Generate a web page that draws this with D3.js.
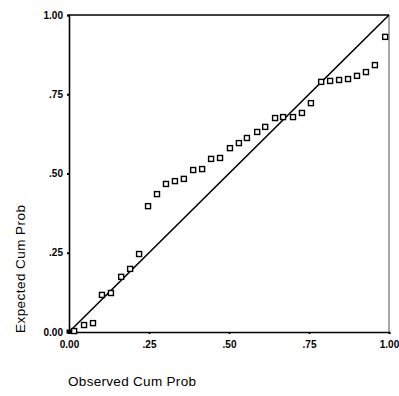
<!DOCTYPE html>
<html>
<head>
<meta charset="utf-8">
<script src="https://cdn.jsdelivr.net/npm/d3@7/dist/d3.min.js"></script>
<style>
  html, body { margin: 0; padding: 0; background: #fff; }
  svg { display: block; }
  text { font-family: "Liberation Sans", Arial, sans-serif; fill: #000; }
</style>
</head>
<body>
<svg id="chart" width="399" height="396"></svg>
<script>
// Observed cumulative probability (x) and expected cumulative probability (y)
const observed = [0.016, 0.047, 0.075, 0.103, 0.131, 0.163, 0.191, 0.219, 0.247, 0.275,
                  0.303, 0.331, 0.359, 0.388, 0.416, 0.444, 0.472, 0.503, 0.531, 0.556,
                  0.588, 0.613, 0.644, 0.669, 0.700, 0.728, 0.756, 0.788, 0.816, 0.844,
                  0.872, 0.900, 0.928, 0.956, 0.988];
const expected = [0.003, 0.022, 0.028, 0.117, 0.123, 0.174, 0.199, 0.246, 0.397, 0.435,
                  0.467, 0.476, 0.483, 0.511, 0.514, 0.546, 0.549, 0.580, 0.596, 0.612,
                  0.631, 0.647, 0.675, 0.678, 0.678, 0.691, 0.722, 0.789, 0.792, 0.795,
                  0.798, 0.808, 0.820, 0.842, 0.931];
const tickValues = [0, 0.25, 0.5, 0.75, 1];
const tickLabels = ["0.00", ".25", ".50", ".75", "1.00"];
const xTitle = "Observed Cum Prob";
const yTitle = "Expected Cum Prob";

(function () {
const svg = d3.select("#chart");
const mLeft = 69, mRight = 389, mTop = 15, mBottom = 332;

const x = d3.scaleLinear().domain([0, 1]).range([mLeft, mRight]);
const y = d3.scaleLinear().domain([0, 1]).range([mBottom, mTop]);

// frame: top and right
svg.append("line").attr("x1", mLeft).attr("x2", mRight).attr("y1", mTop).attr("y2", mTop)
  .attr("stroke", "#000").attr("stroke-width", 1.5);
svg.append("line").attr("x1", mRight).attr("x2", mRight).attr("y1", mTop).attr("y2", mBottom)
  .attr("stroke", "#8a8a8a").attr("stroke-width", 1.5);

// axes
const fmt = (d) => tickLabels[tickValues.indexOf(d)];
const xAxis = svg.append("g").attr("transform", `translate(0,${mBottom})`)
  .call(d3.axisBottom(x).tickValues(tickValues).tickFormat(fmt).tickSize(2).tickPadding(7));
const yAxis = svg.append("g").attr("transform", `translate(${mLeft},0)`)
  .call(d3.axisLeft(y).tickValues(tickValues).tickFormat(fmt).tickSize(2).tickPadding(4));
[xAxis, yAxis].forEach(g => {
  g.select(".domain").attr("stroke", "#000").attr("stroke-width", 1.6);
  g.selectAll(".tick line").attr("stroke", "#000").attr("stroke-width", 2);
  g.selectAll(".tick text").attr("font-family", "'Liberation Sans', Arial, sans-serif")
    .attr("font-size", 10).attr("font-weight", "bold").attr("fill", "#000");
});

// reference diagonal
svg.append("line").attr("x1", x(0)).attr("y1", y(0)).attr("x2", x(1)).attr("y2", y(1))
  .attr("stroke", "#000").attr("stroke-width", 1.6);

// origin blob
svg.append("rect").attr("x", x(0) - 2.5).attr("y", y(0) - 2.5).attr("width", 5).attr("height", 4)
  .attr("fill", "#000");

// points
const s = 5;
svg.append("g").selectAll("rect").data(observed).join("rect")
  .attr("x", (d) => x(d) - s / 2)
  .attr("y", (d, i) => y(expected[i]) - s / 2)
  .attr("width", s).attr("height", s)
  .attr("fill", "#fff").attr("stroke", "#000").attr("stroke-width", 1.4);

// axis titles
svg.append("text").attr("x", 68).attr("y", 386).attr("font-size", 13.5)
  .attr("textLength", 128).attr("lengthAdjust", "spacing").text(xTitle);
svg.append("text").attr("transform", "translate(25,333) rotate(-90)")
  .attr("font-size", 13.5).attr("textLength", 128).attr("lengthAdjust", "spacing").text(yTitle);
})();
</script>
</body>
</html>
